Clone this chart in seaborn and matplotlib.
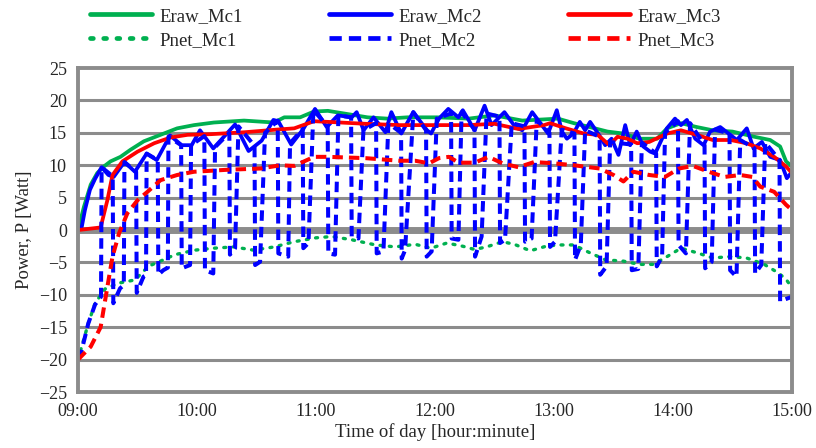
import numpy as np
import matplotlib
matplotlib.use("Agg")
import matplotlib.pyplot as plt
import seaborn as sns

# time axis in minutes after 09:00
tick_pos = [0, 60, 120, 180, 240, 300, 360]
tick_labels = ["09:00", "10:00", "11:00", "12:00", "13:00", "14:00", "15:00"]

t_eraw1 = [0, 3, 6.4, 9.7, 13, 16.4, 21.4, 26.5, 33.2, 41.6, 50, 58.5, 68.5, 83.7, 98.8, 104, 112, 119,
           126, 136, 146, 156, 166, 181, 197, 210, 224, 242, 250, 258, 267, 275, 283, 292, 297, 304,
           312, 320, 330, 341, 349, 354, 357, 360]
eraw_mc1 = [0, 3.6, 7, 8.8, 9.8, 10.6, 11.3, 12.4, 13.7, 14.7, 15.7, 16.2, 16.6, 16.9, 16.6, 17.4, 17.4, 18.3,
            18.4, 17.9, 17.4, 17.2, 17.4, 17.4, 17.2, 17.7, 16.9, 17.2, 16.5, 15.9, 15.2, 14.9, 14.1, 14.1, 15.7, 16.5,
            15.9, 15.4, 15.2, 14.4, 13.9, 12.9, 10.6, 9.8]

t_eraw2 = [0, 1.9, 3.5, 6, 8.6, 11.9, 15.3, 18, 23.4, 28.7, 34.6, 39.7, 46.4, 52.3, 57.3, 61.5, 68.2, 79.2,
           86, 92.6, 98.5, 101, 107.5, 113.6, 119.5, 125.4, 131, 138, 140.5, 144, 149, 155, 158, 163, 169,
           176, 178, 182, 186.7, 191.8, 194, 200, 205, 208.5, 215, 220.5, 224, 229, 237, 241.4, 244, 246.5,
           249.8, 253, 255.7, 258.2, 263.3, 265.8, 269, 272.5, 275.9, 278.4, 281.7, 285, 288.5, 291, 296.9,
           301, 304, 307, 311.2, 315.4, 318.7, 323.8, 328, 332.2, 337.2, 340.6, 344.8, 349, 354, 357.4, 360]
eraw_mc2 = [0, 0.5, 3.1, 6.2, 7.9, 9.7, 8.5, 8.2, 10.5, 9.0, 11.8, 10.8, 14.6, 13.1, 13.1, 15.4, 12.6, 16.3,
            12.2, 13.8, 17.0, 16.8, 13.2, 15.6, 18.7, 15.9, 17.7, 17.4, 18.2, 15.4, 17.4, 15.1, 18.2, 14.9, 18.2,
            15.4, 14.9, 17.2, 18.7, 17.4, 18.5, 15.4, 19.2, 16.2, 18.2, 15.9, 15.4, 18.2, 14.9, 18.5, 15.2, 14.1,
            14.9, 16.7, 15.4, 16.7, 14.4, 13.1, 14.1, 11.6, 16.2, 13.1, 15.2, 12.9, 12.1, 11.8, 15.7,
            17.2, 16.2, 17.0, 14.1, 13.1, 15.2, 15.9, 14.9, 13.9, 15.7, 12.6, 13.6, 11.3, 10.8, 8.0, 9.0]

t_eraw3 = [0, 11.4, 14.8, 17.4, 22.4, 30, 38.4, 46.8, 55.3, 67, 84, 100, 109, 119, 126, 145, 162, 181, 197,
           210, 222, 235, 238, 246, 255, 262, 268, 272, 277, 282, 288, 297, 304, 312, 320, 329, 337, 344,
           351, 357, 360]
eraw_mc3 = [0, 0.4, 4.6, 8.5, 10.6, 12.1, 13.4, 14.3, 14.7, 14.8, 15.1, 15.5, 15.7, 16.8, 16.7, 16.4, 16.2, 16.2, 16.2,
            16.4, 15.6, 16.2, 16.5, 15.7, 14.9, 14.7, 13.1, 14.4, 14.1, 13.4, 13.6, 14.9, 15.4, 14.7, 13.9, 13.9, 13.4, 12.6,
            11.3, 9.8, 8.8]

t_pnet1 = [0, 5.2, 8.6, 13.6, 20.3, 28.7, 35.5, 43, 48.9, 59, 68.5, 78.5, 88.5, 99, 109, 120, 128, 138, 150,
           160, 170, 178, 186, 194, 200, 206, 214, 220, 228, 236, 242, 250, 258, 266, 275, 283, 290, 297,
           304, 312, 320, 329, 337, 346, 353, 357, 360]
pnet_mc1 = [-20, -14.4, -11.3, -9.1, -8.2, -7.7, -5.6, -4.6, -3.8, -3.1, -2.8, -2.6, -3.1, -2.6, -1.8, -1.2, -1.0, -1.5, -2.3,
            -2.6, -2.2, -2.8, -2.0, -2.5, -3.0, -2.6, -1.8, -2.2, -3.2, -2.5, -2.3, -2.3, -3.5, -4.6, -4.8, -5.3, -5.3, -4.1,
            -2.8, -3.5, -4.3, -4.1, -4.3, -5.3, -6.6, -7.6, -8.9]

t_pnet2 = [0, 1.9, 5.2, 8.6, 11.6, 11.9, 17.5, 17.8, 21.2, 23.1, 23.4, 29.3, 29.6, 33, 34.3, 34.6,
           40.2, 40.5, 43, 45.3, 45.6, 52, 52.3, 56.5, 57, 63.7, 64, 68.2, 69.1, 76.3, 76.6, 79.2, 80.9,
           89, 89.3, 91.8, 94.3, 100.7, 101, 106, 106.9, 113.3, 113.6, 116.2, 118.7, 125.9, 126.2, 129.6, 131.3,
           137.7, 138, 141.4, 143.9, 150.3, 150.6, 154, 156.5, 162.9, 163.2, 164.9, 169.1, 175.5, 175.8, 178.3, 180.9,
           188.1, 188.4, 191.8, 193.4, 199.9, 200.2, 203.5, 206, 212.5, 212.8, 215.3, 218.7, 225.1, 225.4, 228.7, 231.3,
           237.7, 238, 240.5, 243.9, 250.3, 250.6, 253.5, 255.7, 263, 263.3, 266.5, 268.3, 278.9, 279.2, 282.5, 284.3,
           291.5, 291.8, 294.5, 296, 302.5, 302.8, 306.5, 308.6, 315.9, 316.2, 319.5, 321.2, 328.5, 328.8, 332, 333.9,
           341.1, 341.4, 344.5, 346.5, 353.7, 354, 358.2, 360]
pnet_mc2 = [-20, -18.5, -14.4, -11.5, -10.3, 9.7, 8.3, -11.3, -9.0, -8.5, 10.5, 9.0, -9.7, -7.2, -7.0, 11.8,
            10.8, -6.9, -6.2, -5.8, 14.4, 13.1, -5.9, -5.4, 13.1, 14.5, -6.2, -6.7, 12.8, 15.0, -3.8, -2.8, 16.0,
            13.0, -5.4, -4.9, 15.0, 16.9, -3.6, -4.1, 13.4, 15.6, -2.8, -2.0, 18.5, 16.0, -3.6, -3.8, 17.7,
            17.4, -1.0, -1.3, 15.4, 16.5, -3.6, -3.3, 16.5, 15.0, -4.4, -3.1, 18.2, 15.4, -4.1, -3.3, 17.2,
            18.0, -1.3, -1.5, 18.2, 15.5, -4.1, -1.0, 18.0, 17.5, -2.0, -1.5, 16.5, 16.0, -1.8, -1.3, 17.0,
            15.0, -2.6, -1.8, 15.5, 14.9, -4.6, -2.3, 15.4, 14.4, -6.9, -5.6, 13.6, 13.2, -6.2, -6.0, 13.5,
            11.8, -5.6, -4.1, 15.0, 16.8, -2.3, -3.6, 16.5, 13.1, -5.9, -4.9, 15.5, 14.9, -6.2, -7.2, 13.9,
            12.6, -6.7, -5.4, 13.5, 10.8, -11.0, -10.5, -10.3]

t_pnet3 = [0, 6.4, 11.4, 14.8, 17.4, 20.7, 24.9, 30, 35, 41.6, 50, 58.5, 75, 92, 102, 109, 119, 126, 145,
           162, 170, 177, 182, 187, 192, 200, 207, 214, 222, 230, 240, 250, 263, 270, 275, 280, 288, 296,
           303, 310, 318, 326, 334, 340, 344, 351, 357, 360]
pnet_mc3 = [-20, -18, -15, -8.8, -4.1, -0.5, 2.6, 4.6, 5.9, 7.7, 8.5, 9.0, 9.3, 9.5, 10.0, 9.9, 11.3, 11.3, 11.1,
            10.7, 10.7, 10.3, 11.1, 11.3, 10.4, 10.4, 11.3, 10.3, 9.7, 10.5, 10.3, 10.0, 9.5, 8.5, 7.5, 9.0, 8.5, 8.2,
            9.5, 9.9, 9.0, 8.2, 8.5, 8.2, 6.7, 5.9, 3.9, 3.1]

green = "#00B050"
blue = "#0000FF"
red = "#FF0000"
grid_grey = "#8C8C8C"

sns.set_style("white")
plt.rcParams["font.family"] = ["Liberation Serif", "DejaVu Serif"]

fig = plt.figure(figsize=(8.16, 4.48), dpi=100)
ax = fig.add_axes([0.0956, 0.125, 0.875, 0.723])

# grid first so series sit on top
for yv in range(-20, 25, 5):
    ax.axhline(yv, color=grid_grey, lw=5 if yv == 0 else 2.2, zorder=0)

lw = 2.7
sns.lineplot(x=t_eraw1, y=eraw_mc1, ax=ax, color=green, lw=lw, estimator=None, sort=False, label="Eraw_Mc1")
sns.lineplot(x=t_eraw2, y=eraw_mc2, ax=ax, color=blue, lw=lw, estimator=None, sort=False, label="Eraw_Mc2")
sns.lineplot(x=t_eraw3, y=eraw_mc3, ax=ax, color=red, lw=lw, estimator=None, sort=False, label="Eraw_Mc3")
sns.lineplot(x=t_pnet1, y=pnet_mc1, ax=ax, color=green, lw=2.4, estimator=None, sort=False, label="Pnet_Mc1")
sns.lineplot(x=t_pnet2, y=pnet_mc2, ax=ax, color=blue, lw=2.9, estimator=None, sort=False, label="Pnet_Mc2")
sns.lineplot(x=t_pnet3, y=pnet_mc3, ax=ax, color=red, lw=2.9, estimator=None, sort=False, label="Pnet_Mc3")

lines = ax.get_lines()[-6:]
lines[3].set_linestyle((0, (0.6, 2.2)))
lines[3].set_dash_capstyle("round")
lines[4].set_linestyle((0, (2.6, 1.5)))
lines[5].set_linestyle((0, (2.6, 1.5)))

ax.get_legend().remove()
order = [0, 3, 1, 4, 2, 5]
leg = fig.legend([lines[i] for i in order], [lines[i].get_label() for i in order],
                 loc="upper center", bbox_to_anchor=(0.497, 1.02), ncol=3, frameon=False,
                 fontsize=13.5, handlelength=3.3, columnspacing=4.6, labelspacing=0.35, handletextpad=0.4)
for h in leg.legend_handles:
    h.set_linewidth(3.4)

ax.set_xlim(0, 360)
ax.set_ylim(-25, 25)
ax.set_xticks(tick_pos)
ax.set_xticklabels(tick_labels)
ax.set_yticks(range(-25, 30, 5))
ax.tick_params(axis="both", labelsize=13, length=0, pad=8)
ax.tick_params(axis="y", length=4, width=1.5, color=grid_grey, pad=4)

for side in ["left", "right", "top", "bottom"]:
    ax.spines[side].set_visible(True)
    ax.spines[side].set_color(grid_grey)
    ax.spines[side].set_linewidth(2.8)

ax.set_xlabel("Time of day [hour:minute]", fontsize=13.5, labelpad=2)
ax.set_ylabel("Power, P [Watt]", fontsize=13.5, labelpad=4)

fig.savefig("out.png", dpi=100)
